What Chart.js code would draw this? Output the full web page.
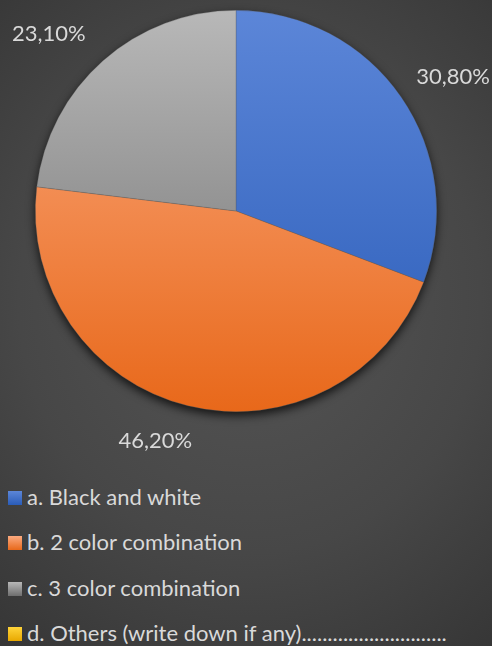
<!DOCTYPE html>
<html>
<head>
<meta charset="utf-8">
<script src="https://cdn.jsdelivr.net/npm/chart.js@4.4.1/dist/chart.umd.min.js"></script>
<style>
  html, body {
    margin: 0;
    padding: 0;
    width: 492px;
    height: 646px;
    overflow: hidden;
    font-family: Lato, "Open Sans", sans-serif;
    background: radial-gradient(ellipse 420px 460px at 250px 300px, #555555 0%, #474747 55%, #343434 100%);
  }
  #wrap { position: absolute; left: 0; top: 0; width: 492px; height: 462px; }
  #legend { position: absolute; left: 8px; top: 484px; margin: 0; padding: 0; list-style: none; }
  #legend li {
    height: 45.3px;
    display: flex;
    align-items: flex-start;
    color: #d9d9d9;
    font-size: 22px;
    line-height: 26px;
  }
  #legend li span.box {
    display: inline-block;
    width: 14px;
    height: 14px;
    margin-top: 7px;
    margin-right: 5px;
  }
</style>
</head>
<body>
<div id="wrap"><canvas id="chartPie"></canvas></div>
<ul id="legend"></ul>
<script>
const labels = [
  "a. Black and white",
  "b. 2 color combination",
  "c. 3 color combination",
  "d. Others (write down if any)............................",
];
const values = [30.8, 46.2, 23.1, 0];

// top / bottom gradient colours per slice
const colorsTop = ["#5c86d8", "#fbaa80", "#b8b8b8", "#ffd43a"];
const colorsBottom = ["#2a5cb8", "#e8681a", "#6e6e6e", "#e8a800"];

function sliceFill(context) {
  const i = context.dataIndex;
  const area = context.chart.chartArea;
  if (!area) return colorsTop[i];
  const g = context.chart.ctx.createLinearGradient(0, area.top, 0, area.bottom);
  g.addColorStop(0, colorsTop[i]);
  g.addColorStop(1, colorsBottom[i]);
  return g;
}

// shadow under the pie
const pieShadow = {
  id: "pieShadow",
  beforeDatasetsDraw(chart) {
    const arc = chart.getDatasetMeta(0).data[0];
    if (!arc) return;
    const ctx = chart.ctx;
    ctx.save();
    ctx.shadowColor = "rgba(0,0,0,0.75)";
    ctx.shadowBlur = 10;
    ctx.shadowOffsetY = 4;
    ctx.fillStyle = "#333";
    ctx.beginPath();
    ctx.arc(arc.x, arc.y, arc.outerRadius, 0, Math.PI * 2);
    ctx.fill();
    ctx.restore();
  },
};

// percentage labels outside each slice, kept inside the canvas
const outsideLabels = {
  id: "outsideLabels",
  afterDatasetsDraw(chart) {
    const ctx = chart.ctx;
    const meta = chart.getDatasetMeta(0);
    ctx.save();
    ctx.font = "22px Lato";
    ctx.fillStyle = "#d9d9d9";
    ctx.textAlign = "center";
    ctx.textBaseline = "middle";
    meta.data.forEach((arc, i) => {
      const v = values[i];
      if (!v) return;
      const mid = (arc.startAngle + arc.endAngle) / 2;
      const dx = Math.cos(mid), dy = Math.sin(mid);
      const txt = v.toFixed(2).replace(".", ",") + "%";
      const w = ctx.measureText(txt).width;
      const d = arc.outerRadius + 26;
      let x = arc.x + d * dx + (w / 2) * Math.sign(dx) * Math.min(1, Math.abs(dx) * 3);
      x = Math.max(w / 2 + 2, Math.min(chart.width - w / 2 - 2, x));
      const y = arc.y + d * dy + 10 * dy;
      ctx.fillText(txt, x, y);
    });
    ctx.restore();
  },
};

const chart = new Chart(document.getElementById("chartPie"), {
  type: "pie",
  data: {
    labels: labels,
    datasets: [
      {
        data: values,
        backgroundColor: sliceFill,
        borderColor: "rgba(90,90,90,0.5)",
        borderWidth: 0.6,
      },
    ],
  },
  options: {
    responsive: true,
    maintainAspectRatio: false,
    animation: false,
    layout: { padding: { left: 35, right: 55, top: 10, bottom: 50 } },
    plugins: {
      legend: { display: false },
      tooltip: { enabled: false },
    },
  },
  plugins: [pieShadow, outsideLabels],
});

// legend, one entry per row
const legendEl = document.getElementById("legend");
labels.forEach((lab, i) => {
  const li = document.createElement("li");
  const box = document.createElement("span");
  box.className = "box";
  box.style.background = "linear-gradient(" + colorsTop[i] + ", " + colorsBottom[i] + ")";
  li.appendChild(box);
  li.appendChild(document.createTextNode(lab));
  legendEl.appendChild(li);
});
</script>
</body>
</html>
